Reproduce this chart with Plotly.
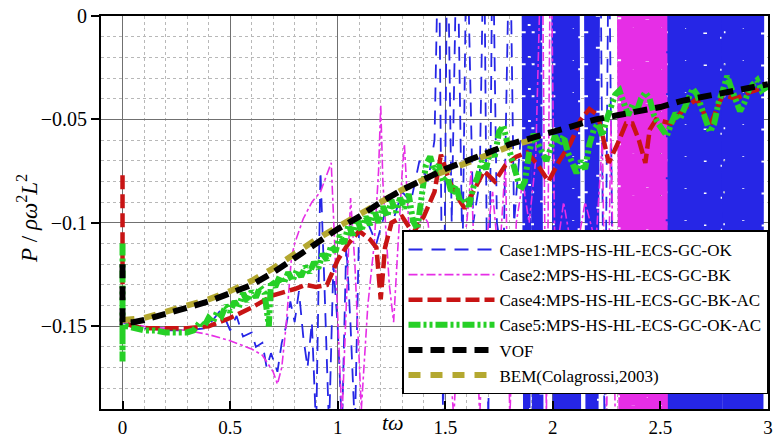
import plotly.graph_objects as go

# ---------------- data ----------------
vof_t = [0, 0, 0.05, 0.1, 0.2, 0.3, 0.4, 0.5, 0.6, 0.7, 0.8, 0.9, 1.0, 1.1, 1.2, 1.3, 1.4, 1.5,
         1.6, 1.7, 1.8, 1.9, 2.0, 2.1, 2.2, 2.3, 2.4, 2.5, 2.6, 2.7, 2.8, 2.9, 3.0]
vof_p = [-0.120, -0.148, -0.148, -0.147, -0.144, -0.141, -0.138, -0.134, -0.130, -0.124, -0.117,
         -0.110, -0.103, -0.097, -0.090, -0.084, -0.079, -0.074, -0.070, -0.066, -0.062, -0.059,
         -0.056, -0.053, -0.050, -0.048, -0.046, -0.044, -0.041, -0.039, -0.037, -0.035, -0.033]

bem_t = [0, 0.1, 0.2, 0.3, 0.4, 0.5, 0.6, 0.7, 0.8, 0.9, 1.0, 1.1, 1.2, 1.3, 1.4, 1.5, 1.6, 1.7, 1.8, 1.9]
bem_p = [-0.147, -0.146, -0.143, -0.140, -0.137, -0.133, -0.128, -0.122, -0.115, -0.108, -0.102,
         -0.096, -0.090, -0.084, -0.079, -0.075, -0.071, -0.067, -0.063, -0.060]

case5_t = [0, 0, 0, 0.02, 0.05, 0.1, 0.15, 0.2, 0.25, 0.3, 0.33, 0.36, 0.38, 0.40, 0.42, 0.44, 0.46,
           0.48, 0.50, 0.52, 0.54, 0.56, 0.58, 0.60, 0.62, 0.64, 0.66, 0.68, 0.69, 0.71, 0.73, 0.75,
           0.77, 0.79, 0.81, 0.83, 0.85, 0.87, 0.89, 0.91, 0.93, 0.95, 0.97, 0.99, 1.01, 1.03, 1.05,
           1.07, 1.09, 1.11, 1.13, 1.15, 1.17, 1.19, 1.21, 1.23, 1.25, 1.27, 1.29, 1.31, 1.33, 1.35,
           1.37, 1.39, 1.41, 1.43, 1.45, 1.47, 1.49, 1.51, 1.53, 1.55, 1.57, 1.59, 1.61, 1.63, 1.65,
           1.67, 1.69, 1.71, 1.73, 1.75, 1.77, 1.79, 1.81, 1.83, 1.85, 1.87, 1.89, 1.91, 1.93, 1.95,
           1.97, 1.99, 2.01, 2.03, 2.05, 2.07, 2.09, 2.11, 2.13, 2.15, 2.17, 2.19, 2.21, 2.23, 2.25,
           2.27, 2.29, 2.31, 2.33, 2.35, 2.37, 2.39, 2.41, 2.43, 2.45, 2.47, 2.49, 2.51, 2.53, 2.55,
           2.57, 2.59, 2.61, 2.63, 2.65, 2.67, 2.69, 2.71, 2.73, 2.75, 2.77, 2.79, 2.81, 2.83, 2.85,
           2.87, 2.89, 2.91, 2.93, 2.95, 2.97, 3.0]
case5_p = [-0.110, -0.167, -0.150, -0.150, -0.151, -0.152, -0.152, -0.153, -0.153, -0.153, -0.152,
           -0.148, -0.150, -0.146, -0.148, -0.143, -0.145, -0.140, -0.143, -0.138, -0.141, -0.134,
           -0.138, -0.133, -0.136, -0.131, -0.134, -0.150, -0.128, -0.131, -0.126, -0.129, -0.124,
           -0.128, -0.123, -0.126, -0.121, -0.124, -0.119, -0.122, -0.115, -0.118, -0.111, -0.114,
           -0.106, -0.110, -0.101, -0.106, -0.098, -0.104, -0.097, -0.101, -0.094, -0.100, -0.092,
           -0.097, -0.089, -0.095, -0.088, -0.093, -0.086, -0.099, -0.103, -0.088, -0.072, -0.068,
           -0.075, -0.072, -0.080, -0.078, -0.086, -0.082, -0.090, -0.088, -0.092, -0.083, -0.078,
           -0.070, -0.074, -0.064, -0.068, -0.056, -0.053, -0.062, -0.070, -0.078, -0.084, -0.080,
           -0.066, -0.057, -0.062, -0.066, -0.070, -0.063, -0.058, -0.062, -0.058, -0.066, -0.072,
           -0.076, -0.070, -0.074, -0.062, -0.055, -0.052, -0.058, -0.050, -0.044, -0.038, -0.036,
           -0.042, -0.048, -0.043, -0.046, -0.040, -0.037, -0.040, -0.048, -0.052, -0.055, -0.058,
           -0.052, -0.047, -0.050, -0.044, -0.040, -0.035, -0.038, -0.044, -0.050, -0.056, -0.052,
           -0.042, -0.036, -0.029, -0.035, -0.041, -0.046, -0.042, -0.036, -0.033, -0.031, -0.036,
           -0.034]

case4_t = [0, 0, 0.05, 0.1, 0.2, 0.3, 0.4, 0.5, 0.6, 0.7, 0.8, 0.85, 0.9, 0.95, 1.0, 1.05, 1.1, 1.15,
           1.18, 1.2, 1.22, 1.25, 1.3, 1.35, 1.4, 1.45, 1.48, 1.52, 1.56, 1.59, 1.63, 1.68, 1.73, 1.78,
           1.83, 1.88, 1.93, 1.98, 2.03, 2.08, 2.13, 2.17, 2.21, 2.24, 2.26, 2.3, 2.34, 2.37, 2.40,
           2.43, 2.45, 2.48, 2.55, 2.61, 2.67, 2.73, 2.79, 2.85, 2.91, 2.97, 3.0]
case4_p = [-0.077, -0.148, -0.150, -0.151, -0.151, -0.151, -0.150, -0.146, -0.141, -0.135, -0.132,
           -0.130, -0.131, -0.130, -0.118, -0.110, -0.104, -0.108, -0.112, -0.137, -0.112, -0.100,
           -0.097, -0.105, -0.097, -0.085, -0.067, -0.080, -0.088, -0.093, -0.085, -0.075, -0.080,
           -0.072, -0.068, -0.066, -0.072, -0.080, -0.070, -0.062, -0.050, -0.045, -0.048, -0.062,
           -0.071, -0.062, -0.052, -0.052, -0.060, -0.071, -0.055, -0.050, -0.052, -0.045, -0.040,
           -0.053, -0.038, -0.040, -0.037, -0.035, -0.034]

case2_t = [0, 0.1, 0.2, 0.3, 0.4, 0.5, 0.6, 0.65, 0.7, 0.72, 0.74, 0.76, 0.785, 0.80, 0.84, 0.88,
           0.92, 0.97, 0.99, 1.02, 1.04, 1.06, 1.08, 1.11, 1.14, 1.17, 1.19, 1.20, 1.21, 1.24, 1.26,
           1.28, 1.30, 1.31, 1.33, 1.36, 1.39, 1.42, 1.45, 1.48, 1.51, 1.54, 1.57, 1.60, 1.62, 1.64,
           1.66, 1.69, 1.72, 1.75, 1.78, 1.80, 1.83, 1.86, 1.89, 1.92, 1.95, 1.97, 1.99, 2.01, 2.05,
           2.10, 2.15, 2.20, 2.23, 2.25, 2.27, 2.29]
case2_p = [-0.148, -0.150, -0.151, -0.152, -0.154, -0.157, -0.161, -0.164, -0.172, -0.178, -0.170,
           -0.150, -0.117, -0.110, -0.098, -0.090, -0.085, -0.071, -0.120, -0.195, -0.140, -0.088,
           -0.120, -0.190, -0.140, -0.110, -0.075, -0.043, -0.080, -0.130, -0.148, -0.110, -0.075,
           -0.062, -0.100, -0.120, -0.095, -0.100, -0.130, -0.105, -0.150, -0.195, -0.120, -0.100,
           -0.075, -0.130, -0.195, -0.110, -0.085, -0.120, -0.070, -0.195, -0.100, -0.080, -0.100,
           -0.070, 0.050, -0.195, 0.050, -0.120, -0.090, -0.120, -0.090, -0.110, -0.060, -0.195,
           -0.050, -0.195]

case2_band_t = [2.309, 2.322, 2.335, 2.348, 2.361, 2.374, 2.387, 2.400, 2.413, 2.426, 2.439, 2.452,
                2.465, 2.478, 2.491, 2.504, 2.517, 2.522]
case2_band_p = [0.1, -0.3, 0.1, -0.3, 0.1, -0.3, 0.1, -0.3, 0.1, -0.3, 0.1, -0.3, 0.1, -0.3, 0.1,
                -0.3, 0.1, -0.3]

case1_t = [0, 0.05, 0.1, 0.2, 0.3, 0.38, 0.42, 0.45, 0.48, 0.5, 0.53, 0.56, 0.6, 0.62, 0.65, 0.67,
           0.69, 0.72, 0.74, 0.76, 0.78, 0.8, 0.82, 0.84, 0.86, 0.88, 0.9, 0.92, 0.94, 0.96, 0.98, 1.0,
           1.02, 1.04, 1.06, 1.08, 1.1, 1.14, 1.18, 1.22, 1.26, 1.3, 1.34, 1.38, 1.42, 1.45, 1.47,
           1.49, 1.51, 1.53, 1.555, 1.58, 1.6, 1.63, 1.66, 1.68, 1.7, 1.72, 1.74, 1.77, 1.8, 1.82,
           1.85, None, 2.22, 2.24, 2.26, 2.28]
case1_p = [-0.148, -0.150, -0.151, -0.152, -0.152, -0.151, -0.147, -0.143, -0.147, -0.152, -0.145,
           -0.155, -0.153, -0.160, -0.158, -0.170, -0.163, -0.172, -0.158, -0.150, -0.138, -0.148,
           -0.133, -0.155, -0.170, -0.148, -0.200, -0.075, -0.135, -0.200, -0.120, -0.150, -0.200,
           -0.110, -0.150, -0.200, -0.100, -0.100, -0.110, -0.095, -0.098, -0.085, -0.090, -0.070,
           -0.080, -0.060, 0.050, -0.200, 0.050, -0.100, 0.050, -0.120, 0.050, -0.100, -0.080, 0.050,
           -0.200, 0.050, -0.100, -0.120, 0.050, -0.100, -0.060, None, 0.050, -0.200, 0.050, -0.150]

case1_band_t = [1.866, 1.879, 1.891, None, 1.907, 1.920, 1.933, 1.946, None,
                2.004, 2.017, 2.030, 2.043, 2.056, 2.069, 2.082, 2.095, 2.108, 2.121, None,
                2.156, 2.169, 2.182, 2.195, 2.208, None,
                2.526, 2.539, 2.552, 2.565, 2.578, 2.591, 2.604, 2.617, 2.630, 2.643, 2.656,
                2.669, 2.682, 2.695, 2.708, 2.721, 2.734, 2.747, 2.760, 2.773, 2.784, None,
                2.794, 2.807, 2.820, 2.833, 2.846, 2.859, 2.872, 2.885, 2.898, 2.911, 2.924,
                2.937, 2.950, 2.963, 2.970]
case1_band_p = [0.1, -0.3, 0.1, None, 0.1, -0.3, 0.1, -0.3, None,
                0.1, -0.3, 0.1, -0.3, 0.1, -0.3, 0.1, -0.3, 0.1, -0.3, None,
                0.1, -0.3, 0.1, -0.3, 0.1, None,
                0.1, -0.3, 0.1, -0.3, 0.1, -0.3, 0.1, -0.3, 0.1, -0.3, 0.1,
                -0.3, 0.1, -0.3, 0.1, -0.3, 0.1, -0.3, 0.1, -0.3, 0.1, None,
                0.1, -0.3, 0.1, -0.3, 0.1, -0.3, 0.1, -0.3, 0.1, -0.3, 0.1,
                -0.3, 0.1, -0.3, 0.1]

x_ticks = [0, 0.5, 1, 1.5, 2, 2.5, 3]
x_ticktext = ["0", "0.5", "1", "1.5", "2", "2.5", "3"]
y_ticks = [0, -0.05, -0.1, -0.15]
y_ticktext = ["0", "\u22120.05", "\u22120.1", "\u22120.15"]

names = ["Case1:MPS-HS-HL-ECS-GC-OK", "Case2:MPS-HS-HL-ECS-GC-BK",
         "Case4:MPS-HS-HL-ECS-GC-BK-AC", "Case5:MPS-HS-HL-ECS-GC-OK-AC",
         "VOF", "BEM(Colagrossi,2003)"]

# ---------------- styles ----------------
BLUE = "#2626e6"
MAG = "#e62ee6"
RED = "#c81414"
GREEN = "#26d026"
OLIVE = "#b4a830"
BLACK = "#000000"
SERIF = "Liberation Serif"

fig = go.Figure()

fig.add_trace(go.Scatter(x=case1_t, y=case1_p, mode="lines", name=names[0], legendgroup="c1",
                         legendrank=1, line=dict(color=BLUE, width=1.8, dash="14px,9px")))
fig.add_trace(go.Scatter(x=case1_band_t, y=case1_band_p, mode="lines", name=names[0],
                         legendgroup="c1", showlegend=False,
                         line=dict(color=BLUE, width=6, dash="30px,2px")))
fig.add_trace(go.Scatter(x=case2_t, y=case2_p, mode="lines", name=names[1], legendgroup="c2",
                         legendrank=2, line=dict(color=MAG, width=1.6, dash="dashdot")))
fig.add_trace(go.Scatter(x=case2_band_t, y=case2_band_p, mode="lines", name=names[1],
                         legendgroup="c2", showlegend=False,
                         line=dict(color=MAG, width=6, dash="40px,2px")))
fig.add_trace(go.Scatter(x=case4_t, y=case4_p, mode="lines", name=names[2], legendrank=3,
                         line=dict(color=RED, width=4.5, dash="14px,5px")))
fig.add_trace(go.Scatter(x=case5_t, y=case5_p, mode="lines", name=names[3], legendrank=4,
                         line=dict(color=GREEN, width=6, dash="12px,3px,3px,3px,3px,3px")))
fig.add_trace(go.Scatter(x=bem_t, y=bem_p, mode="lines", name=names[5], legendrank=6,
                         line=dict(color=OLIVE, width=6, dash="12px,10px")))
fig.add_trace(go.Scatter(x=vof_t, y=vof_p, mode="lines", name=names[4], legendrank=5,
                         line=dict(color=BLACK, width=6, dash="14px,8px")))

fig.update_layout(
    width=778, height=443,
    margin=dict(l=101, r=5, t=11, b=26),
    paper_bgcolor="white", plot_bgcolor="white",
    font=dict(family=SERIF, color="black", size=19),
    showlegend=True,
    legend=dict(x=1, xanchor="right", y=0.037, yanchor="bottom",
                bgcolor="white", bordercolor="black", borderwidth=1.5,
                font=dict(family=SERIF, size=17, color="black"),
                itemwidth=86, tracegroupgap=0, traceorder="normal"),
    xaxis=dict(range=[-0.1, 3.0], tickmode="array", tickvals=x_ticks, ticktext=x_ticktext,
               ticks="inside", ticklen=8, tickwidth=1.5, tickcolor="black",
               showline=True, mirror=True, linecolor="black", linewidth=2,
               showgrid=True, gridcolor="#707070", gridwidth=1, zeroline=False,
               ticklabeloverflow="allow",
               tickfont=dict(family=SERIF, size=19, color="black"),
               minor=dict(dtick=0.1, tick0=0, showgrid=True, gridcolor="#b8b8b8",
                          griddash="dot", gridwidth=1)),
    yaxis=dict(range=[-0.19, 0.0], tickmode="array", tickvals=y_ticks, ticktext=y_ticktext,
               ticks="outside", ticklen=8, tickwidth=1.5, tickcolor="black",
               showline=True, mirror=True, linecolor="black", linewidth=2,
               showgrid=True, gridcolor="#707070", gridwidth=1, zeroline=False,
               ticklabeloverflow="allow",
               tickfont=dict(family=SERIF, size=20, color="black"),
               minor=dict(dtick=0.01, tick0=0, showgrid=True, gridcolor="#b8b8b8",
                          griddash="dot", gridwidth=1)),
    annotations=[
        dict(text="<i>P</i> / <i>ρω</i><sup>2</sup><i>L</i><sup>2</sup>", xref="paper",
             yref="paper", x=-0.11, y=0.485, xanchor="center", yanchor="middle",
             textangle=-90, showarrow=False,
             font=dict(family=SERIF, size=23, color="black")),
        dict(text="<i>tω</i>", xref="paper", yref="paper", x=0.4375, y=-0.035,
             xanchor="center", yanchor="middle", showarrow=False,
             font=dict(family=SERIF, size=22, color="black")),
    ],
)

fig.write_html("out.html", config={"displayModeBar": False},
               post_script="document.body.style.margin='0';document.body.style.overflow='hidden';")
